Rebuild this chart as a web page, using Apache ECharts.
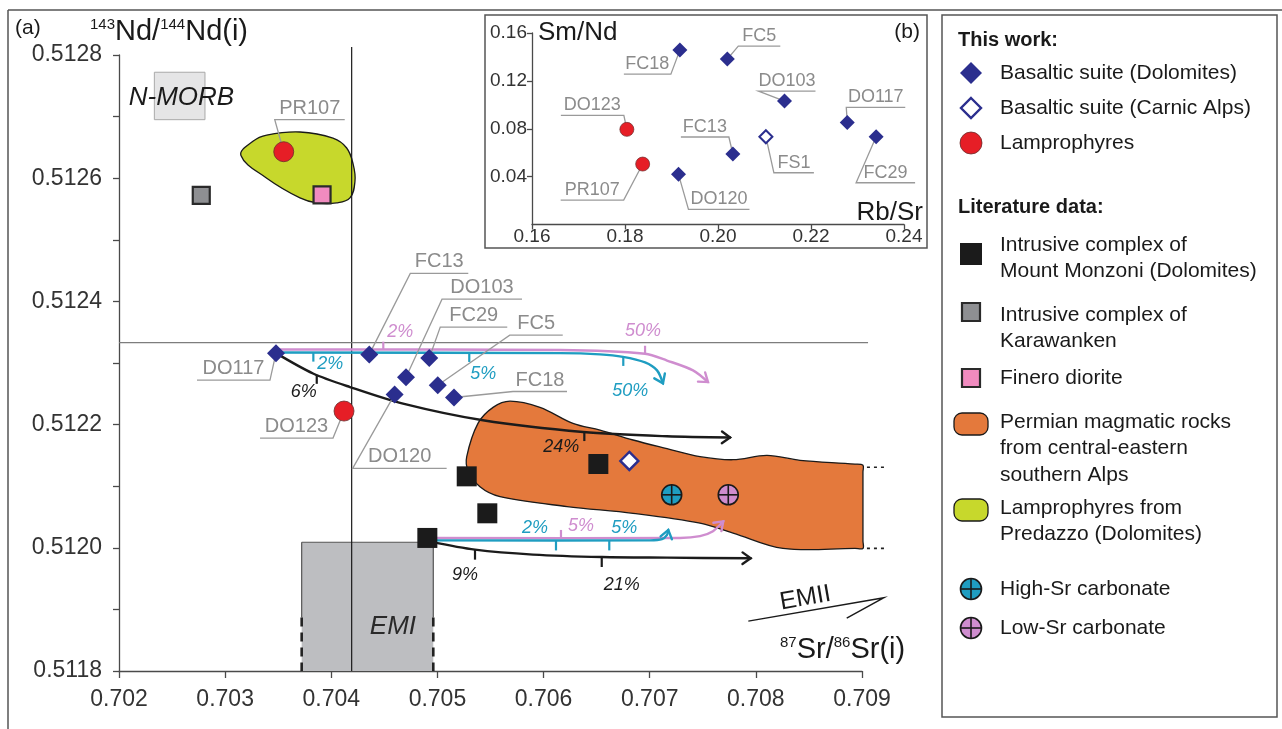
<!DOCTYPE html>
<html>
<head>
<meta charset="utf-8">
<title>Sr–Nd isotope systematics</title>
<script src="https://cdn.jsdelivr.net/npm/echarts@6/dist/echarts.min.js"></script>
<style>
  html, body { margin: 0; padding: 0; background: #fff; }
  #chart { width: 1282px; height: 729px; }
</style>
</head>
<body>
<div id="chart"></div>
<script>
const FONT = '"Liberation Sans", Arial, Helvetica, sans-serif';
const font = (size, pre) => (pre ? pre + ' ' : '') + size + 'px ' + FONT;

// ---------- panel (a): axes ----------
const srMin = 0.702, srMax = 0.709, srStep = 0.001;
const ndMin = 0.5118, ndMax = 0.5128, ndStep = 0.0002;

// ---------- panel (a): samples ----------
const basaltNames = ['DO117', 'FC13', 'FC29', 'DO103', 'FC5', 'DO120', 'FC18'];
const basaltSr = [0.703479, 0.704358, 0.704923, 0.704704, 0.705003, 0.704597, 0.705156];
const basaltNd = [0.512316, 0.512314, 0.512308, 0.512277, 0.512264, 0.512249, 0.512244];

const carnicNames = ['FS1'];
const carnicSr = [0.706808];
const carnicNd = [0.512141];

const lampNames = ['PR107', 'DO123'];
const lampSr = [0.703552, 0.704120];
const lampNd = [0.512643, 0.512222];

const monzoniSr = [0.705276, 0.705470, 0.706516, 0.704905];
const monzoniNd = [0.512116, 0.512056, 0.512136, 0.512016];

const karawankenSr = [0.702775];
const karawankenNd = [0.512572];

const fineroSr = [0.703913];
const fineroNd = [0.512573];

const highSrCarbSr = [0.707207];
const highSrCarbNd = [0.512086];
const lowSrCarbSr = [0.707740];
const lowSrCarbNd = [0.512086];

// ---------- panel (a): fields and reference boxes ----------
const permianSr = [0.705276, 0.705382, 0.705524, 0.705684, 0.705966, 0.706277, 0.706532, 0.706843,
  0.707163, 0.707474, 0.707785, 0.708105, 0.708416, 0.708934, 0.709009, 0.709009, 0.709009, 0.709009,
  0.708934, 0.708256, 0.707785, 0.707474, 0.706843, 0.706221, 0.705590, 0.705401, 0.705288];
const permianNd = [0.512148, 0.512202, 0.512228, 0.512238, 0.512228, 0.512202, 0.512191, 0.512175,
  0.512161, 0.512148, 0.512143, 0.512150, 0.512142, 0.512136, 0.512134, 0.512123, 0.512011, 0.511999,
  0.511999, 0.511999, 0.512024, 0.512040, 0.512056, 0.512067, 0.512083, 0.512099, 0.512126];

const predazzoSr = [0.703149, 0.703262, 0.703392, 0.703705, 0.704016, 0.704145, 0.704207,
  0.704223, 0.704176, 0.704051, 0.703863, 0.703705, 0.703392];
const predazzoNd = [0.512637, 0.512660, 0.512670, 0.512675, 0.512665, 0.512649, 0.512622,
  0.512595, 0.512568, 0.512560, 0.512560, 0.512568, 0.512600];

const nMorbSr = [0.702333, 0.702810];
const nMorbNd = [0.512695, 0.512772];

const emiSr = [0.703721, 0.704961];
const emiNd = [0.5118, 0.512009];
const emiDashedBelowNd = 0.511887;

// reference cross lines
const refSr = 0.704192;
const refSrTopNd = 0.512813;
const refNd = 0.512333;
const refNdEndSr = 0.709057;

// EMII trend arrow (start, tip, barb)
const emiiSr = [0.707929, 0.709207, 0.708856];
const emiiNd = [0.511881, 0.511919, 0.511886];

// ---------- panel (a): mixing / AFC model curves ----------
const upperBlackSr = [0.703479, 0.703828, 0.704176, 0.704676, 0.705429, 0.706372, 0.707163, 0.707757];
const upperBlackNd = [0.512316, 0.512283, 0.512261, 0.512234, 0.512207, 0.512188, 0.512181, 0.512179];
const upperBlackTickSr = [0.703863, 0.706384];
const upperBlackTickLabels = ['6%', '24%'];

const upperTealSr = [0.703479, 0.706155, 0.706532, 0.706748, 0.706956, 0.707069, 0.707125];
const upperTealNd = [0.512317, 0.512316, 0.512314, 0.512310, 0.512301, 0.512288, 0.512267];
const upperTealTickSr = [0.703831, 0.705300, 0.706751];
const upperTealTickLabels = ['2%', '5%', '50%'];

const upperPinkSr = [0.703479, 0.706155, 0.706956, 0.707163, 0.707408, 0.707549];
const upperPinkNd = [0.512322, 0.512321, 0.512315, 0.512304, 0.512288, 0.512269];
const upperPinkTickSr = [0.704490, 0.706956];
const upperPinkTickLabels = ['2%', '50%'];

const lowerBlackSr = [0.704930, 0.705354, 0.705900, 0.706551, 0.707163, 0.707951];
const lowerBlackNd = [0.512010, 0.511997, 0.511989, 0.511985, 0.511984, 0.511983];
const lowerBlackTickSr = [0.705354, 0.706548];
const lowerBlackTickLabels = ['9%', '21%'];

const lowerTealSr = [0.704902, 0.707003, 0.707116, 0.707163, 0.707175];
const lowerTealNd = [0.512012, 0.512012, 0.512014, 0.512021, 0.512029];
const lowerTealTickSr = [0.706117, 0.706619];
const lowerTealTickLabels = ['2%', '5%'];

const lowerPinkSr = [0.704902, 0.707285, 0.707474, 0.707596, 0.707693];
const lowerPinkNd = [0.512016, 0.512016, 0.512019, 0.512027, 0.512043];
const lowerPinkTickSr = [0.706164];
const lowerPinkTickLabels = ['5%'];

// ---------- panel (b): Rb/Sr vs Sm/Nd ----------
const rbsrMin = 0.16, rbsrMax = 0.24, rbsrStep = 0.02;
const smndMin = 0, smndMax = 0.16, smndStep = 0.04;

const insetBasaltNames = ['FC18', 'FC5', 'DO103', 'DO117', 'FC29', 'FC13', 'DO120'];
const insetBasaltRbSr = [0.1918, 0.2020, 0.2143, 0.2278, 0.2340, 0.2032, 0.1915];
const insetBasaltSmNd = [0.1457, 0.1382, 0.1031, 0.0853, 0.0733, 0.0589, 0.0419];
const insetCarnicNames = ['FS1'];
const insetCarnicRbSr = [0.2103];
const insetCarnicSmNd = [0.0733];
const insetLampNames = ['DO123', 'PR107'];
const insetLampRbSr = [0.1804, 0.1838];
const insetLampSmNd = [0.0795, 0.0505];

// ---------- styling ----------
const C = {
  axis: '#4a4a4a', tickText: '#333', navy: '#2b2e8e', red: '#e61e26',
  black: '#1b1b1b', gray: '#8e8f92', pink: '#f08bbf', orange: '#e4793c',
  green: '#c7d82c', teal: '#1f9dc1', lilac: '#cf8dcf', leader: '#9a9a9a', leaderText: '#8b8b8b'
};

// label leader geometry: [elbow dx, elbow dy, underline length] in px from the marker
const mainLabelLayout = {
  PR107: [-9, -32, 70], FC13: [41, -81, 58], DO103: [36, -78, 80], FC29: [11, -31, 67],
  FC5: [72, -50, 53], FC18: [59, -6, 54], DO117: [-6, 27, -73], DO123: [-11, 27, -73],
  DO120: [-42, 74, 94]
};
const insetLabelLayout = {
  FC18: [-9, 24, -47], FC5: [11, -13, 42], DO103: [-26, -10, 57], DO117: [-1, -15, 59],
  FC29: [-20, 46, 59], FS1: [8, 36, 40], FC13: [-4, -17, -48], DO120: [10, 35, 61],
  DO123: [-3, -14, -63], PR107: [-19, 36, -63]
};

// model-curve drawing: colour, tick direction (+1 down), tick length, label offsets
const curveDefs = [
  { sr: upperBlackSr, nd: upperBlackNd, tSr: upperBlackTickSr, tLab: upperBlackTickLabels,
    color: C.black, dir: 1, len: 9, off: [[-13, 17], [-23, 15]] },
  { sr: upperPinkSr, nd: upperPinkNd, tSr: upperPinkTickSr, tLab: upperPinkTickLabels,
    color: C.lilac, dir: -1, len: 8, off: [[17, -18], [-2, -23]] },
  { sr: upperTealSr, nd: upperTealNd, tSr: upperTealTickSr, tLab: upperTealTickLabels,
    color: C.teal, dir: 1, len: 9, off: [[17, 11], [14, 21], [7, 34]] },
  { sr: lowerBlackSr, nd: lowerBlackNd, tSr: lowerBlackTickSr, tLab: lowerBlackTickLabels,
    color: C.black, dir: 1, len: 10, off: [[-10, 25], [20, 28]] },
  { sr: lowerPinkSr, nd: lowerPinkNd, tSr: lowerPinkTickSr, tLab: lowerPinkTickLabels,
    color: C.lilac, dir: -1, len: 8, off: [[20, -12]] },
  { sr: lowerTealSr, nd: lowerTealNd, tSr: lowerTealTickSr, tLab: lowerTealTickLabels,
    color: C.teal, dir: 1, len: 10, off: [[-21, -12], [15, -12]] }
];

const pairs = (xs, ys) => xs.map((x, i) => [x, ys[i]]);
const named = (names, xs, ys) => xs.map((x, i) => ({ name: names[i], value: [x, ys[i]] }));

function textEl(text, x, y, f, fill, align, vAlign) {
  return {
    type: 'text',
    style: { text, x, y, font: f, fill, align: align || 'center', verticalAlign: vAlign || 'middle',
             textAlign: align || 'center', textVerticalAlign: vAlign || 'middle' }
  };
}

function yOnPath(pts, x) {
  for (let i = 0; i < pts.length - 1; i++) {
    const a = pts[i], b = pts[i + 1];
    if ((x >= a[0] && x <= b[0]) || (x <= a[0] && x >= b[0])) {
      const t = b[0] === a[0] ? 0 : (x - a[0]) / (b[0] - a[0]);
      return a[1] + t * (b[1] - a[1]);
    }
  }
  return pts[pts.length - 1][1];
}

function renderCurve(def) {
  return function (params, api) {
    if (params.dataIndex !== 0) return;
    const pts = def.sr.map((x, i) => api.coord([x, def.nd[i]]));
    const line = { stroke: def.color, lineWidth: 2.4, fill: null, lineCap: 'round' };
    const kids = [{ type: 'polyline', shape: { points: pts, smooth: 0.3 }, style: line }];
    const a = pts[pts.length - 2], b = pts[pts.length - 1];
    const ang = Math.atan2(b[1] - a[1], b[0] - a[0]);
    const L = 10, s = 0.62;
    kids.push({ type: 'polyline', shape: { points: [
      [b[0] - L * Math.cos(ang - s), b[1] - L * Math.sin(ang - s)], b,
      [b[0] - L * Math.cos(ang + s), b[1] - L * Math.sin(ang + s)]] }, style: line });
    def.tSr.forEach((sr, i) => {
      const px = api.coord([sr, def.nd[0]])[0];
      const py = yOnPath(pts, px);
      kids.push({ type: 'line', shape: { x1: px, y1: py, x2: px, y2: py + def.dir * def.len },
                  style: { stroke: def.color, lineWidth: 2.2 } });
      kids.push(textEl(def.tLab[i], px + def.off[i][0], py + def.off[i][1], font(18, 'italic'), def.color));
    });
    return { type: 'group', children: kids };
  };
}

function renderLeader(names, layout, size, gap) {
  return function (params, api) {
    const p = api.coord([api.value(0), api.value(1)]);
    const name = names[params.dataIndex];
    const [dx, dy, len] = layout[name];
    const e = [p[0] + dx, p[1] + dy];
    const end = [e[0] + len, e[1]];
    return { type: 'group', children: [
      { type: 'polyline', shape: { points: [p, e, end] }, style: { stroke: C.leader, lineWidth: 1.3, fill: null } },
      textEl(name, (e[0] + end[0]) / 2, e[1] - gap, font(size), C.leaderText)
    ] };
  };
}

function crossedCircle(fill, r) {
  return function (params, api) {
    const p = api.coord([api.value(0), api.value(1)]);
    const st = { stroke: '#1a1a1a', lineWidth: 1.6 };
    return { type: 'group', children: [
      { type: 'circle', shape: { cx: p[0], cy: p[1], r }, style: { fill, stroke: '#1a1a1a', lineWidth: 1.6 } },
      { type: 'line', shape: { x1: p[0] - r, y1: p[1], x2: p[0] + r, y2: p[1] }, style: st },
      { type: 'line', shape: { x1: p[0], y1: p[1] - r, x2: p[0], y2: p[1] + r }, style: st }
    ] };
  };
}

const axisCommon = (fs, margin, tickLen) => ({
  axisLine: { show: true, onZero: false, lineStyle: { color: C.axis, width: 1.3 } },
  axisTick: { show: true, inside: false, length: tickLen, lineStyle: { color: C.axis, width: 1.3 } },
  axisLabel: { fontSize: fs, color: C.tickText, margin, fontFamily: FONT },
  splitLine: { show: false }
});

const series = [];

// Permian field (central-eastern southern Alps)
series.push({
  type: 'custom', name: 'Permian magmatic rocks', xAxisIndex: 0, yAxisIndex: 0, z: 1,
  data: pairs(permianSr, permianNd),
  renderItem(params, api) {
    if (params.dataIndex !== 0) return;
    const pts = permianSr.map((x, i) => api.coord([x, permianNd[i]]));
    const topR = pts[14], botR = pts[17];
    const dash = { stroke: '#222', lineWidth: 1.6, lineDash: [3, 4] };
    return { type: 'group', children: [
      { type: 'polygon', shape: { points: pts, smooth: 0.35 }, style: { fill: C.orange, stroke: '#1a1a1a', lineWidth: 1.3 } },
      { type: 'line', shape: { x1: topR[0] + 4, y1: topR[1] + 2, x2: topR[0] + 22, y2: topR[1] + 2 }, style: dash },
      { type: 'line', shape: { x1: botR[0] + 4, y1: botR[1], x2: botR[0] + 22, y2: botR[1] }, style: dash }
    ] };
  }
});

// Predazzo lamprophyre field
series.push({
  type: 'custom', name: 'Lamprophyres from Predazzo', xAxisIndex: 0, yAxisIndex: 0, z: 1,
  data: pairs(predazzoSr, predazzoNd),
  renderItem(params, api) {
    if (params.dataIndex !== 0) return;
    const pts = predazzoSr.map((x, i) => api.coord([x, predazzoNd[i]]));
    return { type: 'polygon', shape: { points: pts, smooth: 0.4 }, style: { fill: C.green, stroke: '#1a1a1a', lineWidth: 1.3 } };
  }
});

// N-MORB and EMI reference boxes
series.push({
  type: 'custom', name: 'Mantle end-members', xAxisIndex: 0, yAxisIndex: 0, z: 1,
  data: [[nMorbSr[0], nMorbNd[0]]],
  renderItem(params, api) {
    const m0 = api.coord([nMorbSr[0], nMorbNd[1]]), m1 = api.coord([nMorbSr[1], nMorbNd[0]]);
    const e0 = api.coord([emiSr[0], emiNd[1]]), e1 = api.coord([emiSr[1], emiNd[0]]);
    const dY = api.coord([emiSr[0], emiDashedBelowNd])[1];
    const solid = { stroke: '#555', lineWidth: 1.2 };
    const dashed = { stroke: '#222', lineWidth: 2.6, lineDash: [9, 6] };
    const emiText = api.coord([(emiSr[0] + emiSr[1]) / 2 + 0.00024, (emiDashedBelowNd + emiNd[0]) / 2 + 0.000029]);
    const morbText = api.coord([(nMorbSr[0] + nMorbSr[1]) / 2 + 0.000017, (nMorbNd[0] + nMorbNd[1]) / 2 - 0.000003]);
    return { type: 'group', children: [
      { type: 'rect', shape: { x: m0[0], y: m0[1], width: m1[0] - m0[0], height: m1[1] - m0[1] },
        style: { fill: '#e5e5e6', stroke: '#a9a9a9', lineWidth: 1 } },
      textEl('N-MORB', morbText[0], morbText[1], font(26, 'italic'), '#1a1a1a'),
      { type: 'rect', shape: { x: e0[0], y: e0[1], width: e1[0] - e0[0], height: e1[1] - e0[1] },
        style: { fill: '#bdbec1', stroke: null } },
      { type: 'line', shape: { x1: e0[0], y1: e0[1], x2: e1[0], y2: e0[1] }, style: solid },
      { type: 'line', shape: { x1: e0[0], y1: e0[1], x2: e0[0], y2: dY }, style: solid },
      { type: 'line', shape: { x1: e1[0], y1: e0[1], x2: e1[0], y2: dY }, style: solid },
      { type: 'line', shape: { x1: e0[0], y1: dY, x2: e0[0], y2: e1[1] }, style: dashed },
      { type: 'line', shape: { x1: e1[0], y1: dY, x2: e1[0], y2: e1[1] }, style: dashed },
      textEl('EMI', emiText[0], emiText[1], font(26, 'italic'), '#2a2a2a')
    ] };
  }
});

// reference cross lines and EMII arrow
series.push({
  type: 'custom', name: 'Reference lines', xAxisIndex: 0, yAxisIndex: 0, z: 2,
  data: [[refSr, refNd]],
  renderItem(params, api) {
    const v0 = api.coord([refSr, refSrTopNd]), v1 = api.coord([refSr, ndMin]);
    const h0 = api.coord([srMin, refNd]), h1 = api.coord([refNdEndSr, refNd]);
    const a = api.coord([emiiSr[0], emiiNd[0]]), b = api.coord([emiiSr[1], emiiNd[1]]), c = api.coord([emiiSr[2], emiiNd[2]]);
    const ang = Math.atan2(b[1] - a[1], b[0] - a[0]);
    const mid = [a[0] + (b[0] - a[0]) * 0.42, a[1] + (b[1] - a[1]) * 0.42 - 13];
    return { type: 'group', children: [
      { type: 'line', shape: { x1: v0[0], y1: v0[1], x2: v1[0], y2: v1[1] }, style: { stroke: '#1a1a1a', lineWidth: 1.2 } },
      { type: 'line', shape: { x1: h0[0], y1: h0[1], x2: h1[0], y2: h1[1] }, style: { stroke: '#7d7d7d', lineWidth: 1.3 } },
      { type: 'polyline', shape: { points: [a, b, c] }, style: { stroke: '#1a1a1a', lineWidth: 1.4, fill: null } },
      { type: 'text', x: mid[0], y: mid[1], rotation: -ang,
        style: { text: 'EMII', x: 0, y: 0, font: font(25), fill: '#1a1a1a', align: 'center', verticalAlign: 'middle',
                 textAlign: 'center', textVerticalAlign: 'middle' } }
    ] };
  }
});

// model curves
curveDefs.forEach((def, i) => series.push({
  type: 'custom', name: 'Model curve ' + (i + 1), xAxisIndex: 0, yAxisIndex: 0, z: 3,
  data: pairs(def.sr, def.nd), renderItem: renderCurve(def)
}));

// leader labels, panel (a)
const mainLabelNames = basaltNames.concat(lampNames);
series.push({
  type: 'custom', name: 'Sample labels', xAxisIndex: 0, yAxisIndex: 0, z: 3,
  data: pairs(basaltSr.concat(lampSr), basaltNd.concat(lampNd)),
  renderItem: renderLeader(mainLabelNames, mainLabelLayout, 20, 11.5)
});

// samples, panel (a)
series.push({
  type: 'scatter', name: 'Basaltic suite (Dolomites)', xAxisIndex: 0, yAxisIndex: 0, z: 4,
  symbol: 'diamond', symbolSize: [18, 18], itemStyle: { color: C.navy, opacity: 1 },
  data: named(basaltNames, basaltSr, basaltNd)
});
series.push({
  type: 'scatter', name: 'Basaltic suite (Carnic Alps)', xAxisIndex: 0, yAxisIndex: 0, z: 4,
  symbol: 'diamond', symbolSize: [18, 18], itemStyle: { color: '#fff', borderColor: C.navy, borderWidth: 2.4, opacity: 1 },
  data: named(carnicNames, carnicSr, carnicNd)
});
series.push({
  type: 'scatter', name: 'Lamprophyres', xAxisIndex: 0, yAxisIndex: 0, z: 4,
  symbol: 'circle', symbolSize: 20, itemStyle: { color: C.red, borderColor: '#6b2b2b', borderWidth: 0.8, opacity: 1 },
  data: named(lampNames, lampSr, lampNd)
});
series.push({
  type: 'scatter', name: 'Mount Monzoni', xAxisIndex: 0, yAxisIndex: 0, z: 4,
  symbol: 'rect', symbolSize: 20, itemStyle: { color: C.black, opacity: 1 },
  data: pairs(monzoniSr, monzoniNd)
});
series.push({
  type: 'scatter', name: 'Karawanken', xAxisIndex: 0, yAxisIndex: 0, z: 4,
  symbol: 'rect', symbolSize: 17, itemStyle: { color: C.gray, borderColor: '#2a2a2a', borderWidth: 2.2, opacity: 1 },
  data: pairs(karawankenSr, karawankenNd)
});
series.push({
  type: 'scatter', name: 'Finero diorite', xAxisIndex: 0, yAxisIndex: 0, z: 4,
  symbol: 'rect', symbolSize: 17, itemStyle: { color: C.pink, borderColor: '#2a2a2a', borderWidth: 2.2, opacity: 1 },
  data: pairs(fineroSr, fineroNd)
});
series.push({
  type: 'custom', name: 'High-Sr carbonate', xAxisIndex: 0, yAxisIndex: 0, z: 4,
  data: pairs(highSrCarbSr, highSrCarbNd), renderItem: crossedCircle(C.teal, 10)
});
series.push({
  type: 'custom', name: 'Low-Sr carbonate', xAxisIndex: 0, yAxisIndex: 0, z: 4,
  data: pairs(lowSrCarbSr, lowSrCarbNd), renderItem: crossedCircle(C.lilac, 10)
});

// panel (b)
const insetNames = insetBasaltNames.concat(insetCarnicNames, insetLampNames);
series.push({
  type: 'custom', name: 'Inset labels', xAxisIndex: 1, yAxisIndex: 1, z: 3,
  data: pairs(insetBasaltRbSr.concat(insetCarnicRbSr, insetLampRbSr), insetBasaltSmNd.concat(insetCarnicSmNd, insetLampSmNd)),
  renderItem: renderLeader(insetNames, insetLabelLayout, 18, 10)
});
series.push({
  type: 'scatter', name: 'Basaltic suite (Dolomites) b', xAxisIndex: 1, yAxisIndex: 1, z: 4,
  symbol: 'diamond', symbolSize: [15, 15], itemStyle: { color: C.navy, opacity: 1 },
  data: named(insetBasaltNames, insetBasaltRbSr, insetBasaltSmNd)
});
series.push({
  type: 'scatter', name: 'Basaltic suite (Carnic Alps) b', xAxisIndex: 1, yAxisIndex: 1, z: 4,
  symbol: 'diamond', symbolSize: [13, 13], itemStyle: { color: '#fff', borderColor: C.navy, borderWidth: 2, opacity: 1 },
  data: named(insetCarnicNames, insetCarnicRbSr, insetCarnicSmNd)
});
series.push({
  type: 'scatter', name: 'Lamprophyres b', xAxisIndex: 1, yAxisIndex: 1, z: 4,
  symbol: 'circle', symbolSize: 14, itemStyle: { color: C.red, borderColor: '#6b2b2b', borderWidth: 0.7, opacity: 1 },
  data: named(insetLampNames, insetLampRbSr, insetLampSmNd)
});

// ---------- frames, titles and legend ----------
const frameStroke = { stroke: '#555', lineWidth: 1.5, fill: null };
const supRich = { s: { font: font(15), fill: '#1a1a1a', verticalAlign: 'top' } };
const graphics = [
  { type: 'line', shape: { x1: 8, y1: 10, x2: 1282, y2: 10 }, style: frameStroke },
  { type: 'line', shape: { x1: 8, y1: 10, x2: 8, y2: 729 }, style: frameStroke },
  { type: 'rect', shape: { x: 485, y: 15, width: 442, height: 233 }, style: frameStroke },
  { type: 'rect', shape: { x: 942, y: 15, width: 335, height: 702 }, style: frameStroke },
  { type: 'text', x: 15, y: 28, style: { text: '(a)', font: font(21), fill: '#1a1a1a', align: 'left', verticalAlign: 'middle', textAlign: 'left', textVerticalAlign: 'middle' } },
  { type: 'text', x: 920, y: 32, style: { text: '(b)', font: font(21), fill: '#1a1a1a', align: 'right', verticalAlign: 'middle', textAlign: 'right', textVerticalAlign: 'middle' } },
  { type: 'text', x: 90, y: 32, style: { text: '{s|143}Nd/{s|144}Nd(i)', font: font(29), fill: '#1a1a1a', rich: supRich, align: 'left', verticalAlign: 'middle', textAlign: 'left', textVerticalAlign: 'middle' } },
  { type: 'text', x: 780, y: 650, style: { text: '{s|87}Sr/{s|86}Sr(i)', font: font(29), fill: '#1a1a1a', rich: supRich, align: 'left', verticalAlign: 'middle', textAlign: 'left', textVerticalAlign: 'middle' } },
  { type: 'text', x: 538, y: 33, style: { text: 'Sm/Nd', font: font(26), fill: '#1a1a1a', align: 'left', verticalAlign: 'middle', textAlign: 'left', textVerticalAlign: 'middle' } },
  { type: 'text', x: 923, y: 213, style: { text: 'Rb/Sr', font: font(26), fill: '#1a1a1a', align: 'right', verticalAlign: 'middle', textAlign: 'right', textVerticalAlign: 'middle' } }
];

function legendSymbol(kind, cx, cy) {
  const ln = { stroke: '#1a1a1a', lineWidth: 1.6 };
  switch (kind) {
    case 'diamond':
      return { type: 'polygon', shape: { points: [[cx, cy - 11], [cx + 11, cy], [cx, cy + 11], [cx - 11, cy]] }, style: { fill: C.navy } };
    case 'diamondOpen':
      return { type: 'polygon', shape: { points: [[cx, cy - 10], [cx + 10, cy], [cx, cy + 10], [cx - 10, cy]] }, style: { fill: '#fff', stroke: C.navy, lineWidth: 2.4 } };
    case 'circle':
      return { type: 'circle', shape: { cx, cy, r: 11 }, style: { fill: C.red, stroke: '#6b2b2b', lineWidth: 0.8 } };
    case 'squareBlack':
      return { type: 'rect', shape: { x: cx - 11, y: cy - 11, width: 22, height: 22 }, style: { fill: C.black } };
    case 'squareGray':
      return { type: 'rect', shape: { x: cx - 9, y: cy - 9, width: 18, height: 18 }, style: { fill: C.gray, stroke: '#2a2a2a', lineWidth: 2.2 } };
    case 'squarePink':
      return { type: 'rect', shape: { x: cx - 9, y: cy - 9, width: 18, height: 18 }, style: { fill: C.pink, stroke: '#2a2a2a', lineWidth: 2.2 } };
    case 'fieldOrange':
      return { type: 'rect', shape: { x: cx - 17, y: cy - 11, width: 34, height: 22, r: 8 }, style: { fill: C.orange, stroke: '#1a1a1a', lineWidth: 1.3 } };
    case 'fieldGreen':
      return { type: 'rect', shape: { x: cx - 17, y: cy - 11, width: 34, height: 22, r: 8 }, style: { fill: C.green, stroke: '#1a1a1a', lineWidth: 1.3 } };
    case 'crossTeal':
    case 'crossLilac':
      return { type: 'group', children: [
        { type: 'circle', shape: { cx, cy, r: 10.5 }, style: { fill: kind === 'crossTeal' ? C.teal : C.lilac, stroke: '#1a1a1a', lineWidth: 1.6 } },
        { type: 'line', shape: { x1: cx - 10.5, y1: cy, x2: cx + 10.5, y2: cy }, style: ln },
        { type: 'line', shape: { x1: cx, y1: cy - 10.5, x2: cx, y2: cy + 10.5 }, style: ln }
      ] };
  }
}

const legendHeadings = [['This work:', 40], ['Literature data:', 207]];
const legendEntries = [
  ['diamond', ['Basaltic suite (Dolomites)'], 73, 73],
  ['diamondOpen', ['Basaltic suite (Carnic Alps)'], 108, 108],
  ['circle', ['Lamprophyres'], 143, 143],
  ['squareBlack', ['Intrusive complex of', 'Mount Monzoni (Dolomites)'], 254, 245],
  ['squareGray', ['Intrusive complex of', 'Karawanken'], 312, 315],
  ['squarePink', ['Finero diorite'], 378, 378],
  ['fieldOrange', ['Permian magmatic rocks', 'from central-eastern', 'southern Alps'], 424, 422],
  ['fieldGreen', ['Lamprophyres from', 'Predazzo (Dolomites)'], 510, 508],
  ['crossTeal', ['High-Sr carbonate'], 589, 589],
  ['crossLilac', ['Low-Sr carbonate'], 628, 628]
];
legendHeadings.forEach(([t, y]) => graphics.push({ type: 'text', x: 958, y,
  style: { text: t, font: font(20, 'bold'), fill: '#1a1a1a', align: 'left', verticalAlign: 'middle', textAlign: 'left', textVerticalAlign: 'middle' } }));
legendEntries.forEach(([kind, lines, symY, textY]) => {
  graphics.push(legendSymbol(kind, 971, symY));
  lines.forEach((t, k) => graphics.push({ type: 'text', x: 1000, y: textY + k * 26.4,
    style: { text: t, font: font(21), fill: '#1a1a1a', align: 'left', verticalAlign: 'middle', textAlign: 'left', textVerticalAlign: 'middle' } }));
});

const chart = echarts.init(document.getElementById('chart'), null, { renderer: 'canvas' });
chart.setOption({
  animation: false,
  backgroundColor: '#fff',
  textStyle: { fontFamily: FONT },
  grid: [
    { left: 119, right: 420, top: 55, bottom: 58 },
    { left: 532, right: 378, top: 33, bottom: 504.5 }
  ],
  xAxis: [
    Object.assign({ gridIndex: 0, type: 'value', min: srMin, max: srMax, interval: srStep }, axisCommon(23, 16, 7),
      { axisLabel: { fontSize: 23, color: C.tickText, margin: 17, fontFamily: FONT, formatter: v => v.toFixed(3) } }),
    Object.assign({ gridIndex: 1, type: 'value', min: rbsrMin, max: rbsrMax, interval: rbsrStep }, axisCommon(19, 4, 5),
      { axisLabel: { fontSize: 19, color: C.tickText, margin: 3, fontFamily: FONT, formatter: v => v.toFixed(2) } })
  ],
  yAxis: [
    Object.assign({ gridIndex: 0, type: 'value', min: ndMin, max: ndMax, interval: ndStep }, axisCommon(23, 17, 6),
      { axisLabel: { fontSize: 23, color: C.tickText, margin: 17, fontFamily: FONT, formatter: v => v.toFixed(4) },
        minorTick: { show: true, splitNumber: 2, length: 6, lineStyle: { color: C.axis, width: 1.3 } } }),
    Object.assign({ gridIndex: 1, type: 'value', min: smndMin, max: smndMax, interval: smndStep }, axisCommon(19, 5, 5),
      { axisLabel: { fontSize: 19, color: C.tickText, margin: 5, fontFamily: FONT, showMinLabel: false, formatter: v => v.toFixed(2) } })
  ],
  graphic: { elements: graphics },
  series
});
</script>
</body>
</html>
